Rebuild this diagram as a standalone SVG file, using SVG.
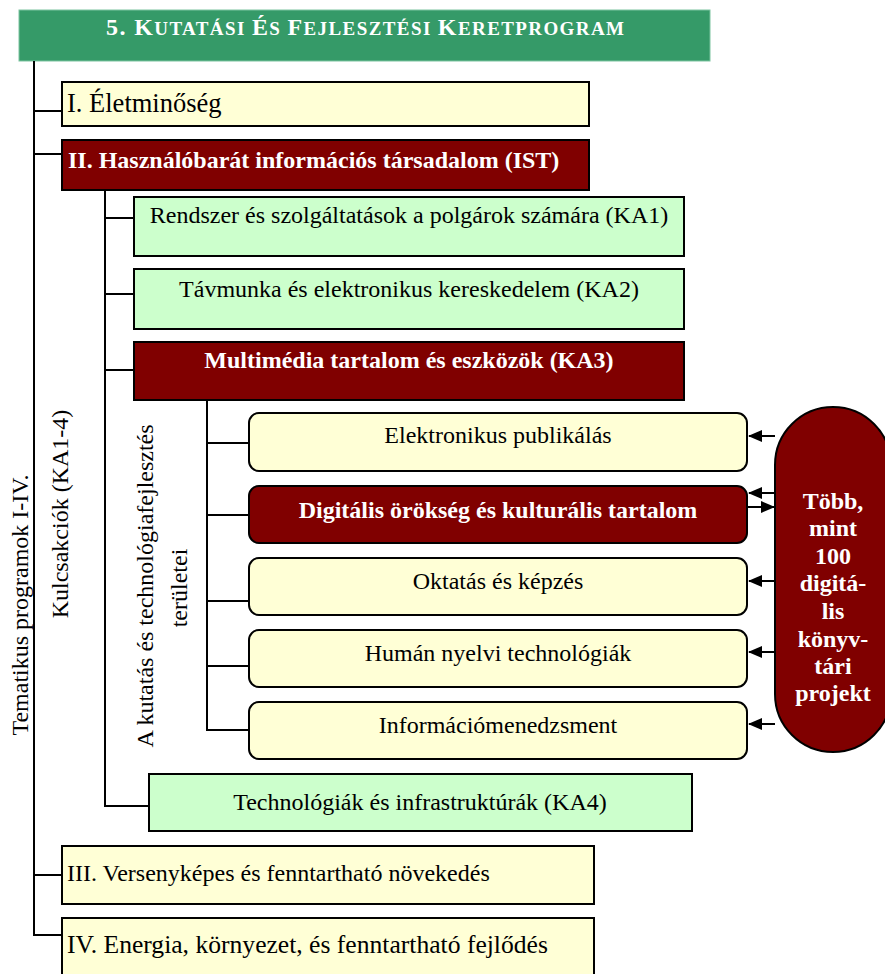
<svg xmlns="http://www.w3.org/2000/svg" width="885" height="974" viewBox="0 0 885 974">
<style>
text{font-family:"Liberation Serif","Times New Roman",serif;font-size:24px;fill:#000}
.w{fill:#fff;font-weight:bold}
.c{text-anchor:middle}
.y{fill:#ffffd6;stroke:#000;stroke-width:2}
.g{fill:#ccffcc;stroke:#000;stroke-width:2}
.r{fill:#800000;stroke:#000;stroke-width:2}
.ln{stroke:#000;stroke-width:2;fill:none}
</style>
<defs>
<marker id="ah" markerWidth="14" markerHeight="12" refX="13" refY="6" orient="auto" markerUnits="userSpaceOnUse">
<path d="M0,0 L14,6 L0,12 Z" fill="#000"/>
</marker>
</defs>
<g id="title">
<rect x="19" y="10" width="691" height="51" fill="#359a68" stroke="#7cc4a0" stroke-width="1"/>
<text x="365" y="35" class="w c" textLength="518" lengthAdjust="spacing"><tspan>5. K</tspan><tspan style="font-size:19px">UTATÁSI </tspan><tspan>É</tspan><tspan style="font-size:19px">S </tspan><tspan>F</tspan><tspan style="font-size:19px">EJLESZTÉSI </tspan><tspan>K</tspan><tspan style="font-size:19px">ERETPROGRAM</tspan></text>
</g>
<g id="connectors">
<path class="ln" d="M34,61 V935 H62 M34,111 H62 M34,154 H62 M34,875 H62"/>
<path class="ln" d="M105,190 V806 H149 M105,218 H134 M105,294 H134 M105,370 H134"/>
<path class="ln" d="M207,400 V730 H249 M207,443 H249 M207,515 H249 M207,601 H249 M207,666 H249"/>
<path class="ln" d="M775,436 H749" marker-end="url(#ah)"/>
<path class="ln" d="M775,493 H749" marker-end="url(#ah)"/>
<path class="ln" d="M747,507 H774" marker-end="url(#ah)"/>
<path class="ln" d="M775,581 H749" marker-end="url(#ah)"/>
<path class="ln" d="M775,652 H749" marker-end="url(#ah)"/>
<path class="ln" d="M775,724 H749" marker-end="url(#ah)"/>
</g>
<g id="label-tematikus"><text transform="translate(28,605) rotate(-90)" class="c">Tematikus programok I-IV.</text></g>
<g id="label-kulcs"><text transform="translate(68,514) rotate(-90)" class="c">Kulcsakciók (KA1-4)</text></g>
<g id="label-kutatas"><text transform="translate(153,586) rotate(-90)" class="c">A kutatás és technológiafejlesztés</text><text transform="translate(187,588) rotate(-90)" class="c">területei</text></g>
<g id="n-I"><rect class="y" x="62" y="82" width="527" height="44"/><text x="67" y="112" style="font-size:26.5px">I. Életminőség</text></g>
<g id="n-II"><rect class="r" x="62" y="140" width="527" height="50"/><text x="68" y="168" class="w">II. Használóbarát információs társadalom (IST)</text></g>
<g id="n-KA1"><rect class="g" x="134" y="197" width="550" height="59"/><text x="409" y="223" class="c">Rendszer és szolgáltatások a polgárok számára (KA1)</text></g>
<g id="n-KA2"><rect class="g" x="134" y="269" width="550" height="60"/><text x="409" y="297" class="c">Távmunka és elektronikus kereskedelem (KA2)</text></g>
<g id="n-KA3"><rect class="r" x="134" y="342" width="550" height="58"/><text x="409" y="368" class="w c">Multimédia tartalom és eszközök (KA3)</text></g>
<g id="n-elek"><rect class="y" x="249" y="413" width="498" height="58" rx="10"/><text x="498" y="443" class="c">Elektronikus publikálás</text></g>
<g id="n-dig"><rect class="r" x="249" y="486" width="498" height="57" rx="10"/><text x="498" y="518" class="w c">Digitális örökség és kulturális tartalom</text></g>
<g id="n-okt"><rect class="y" x="249" y="558" width="498" height="57" rx="10"/><text x="498" y="589" class="c">Oktatás és képzés</text></g>
<g id="n-human"><rect class="y" x="249" y="630" width="498" height="57" rx="10"/><text x="498" y="661" class="c">Humán nyelvi technológiák</text></g>
<g id="n-info"><rect class="y" x="249" y="702" width="498" height="57" rx="10"/><text x="498" y="733" class="c">Információmenedzsment</text></g>
<g id="n-KA4"><rect class="g" x="149" y="774" width="543" height="57"/><text x="420" y="810" class="c">Technológiák és infrastruktúrák (KA4)</text></g>
<g id="n-III"><rect class="y" x="62" y="846" width="532" height="58"/><text x="67" y="881">III. Versenyképes és fenntartható növekedés</text></g>
<g id="n-IV"><rect class="y" x="62" y="918" width="532" height="70"/><text x="67" y="953" style="font-size:25.6px">IV. Energia, környezet, és fenntartható fejlődés</text></g>
<g id="n-pill"><rect class="r" x="775" y="407" width="116" height="345" rx="58"/>
<text class="w c" x="833"><tspan x="833" y="509">Több,</tspan><tspan x="833" y="536">mint</tspan><tspan x="833" y="564">100</tspan><tspan x="833" y="591">digitá-</tspan><tspan x="833" y="619">lis</tspan><tspan x="833" y="647">könyv-</tspan><tspan x="833" y="674">tári</tspan><tspan x="833" y="701">projekt</tspan></text></g>
</svg>
